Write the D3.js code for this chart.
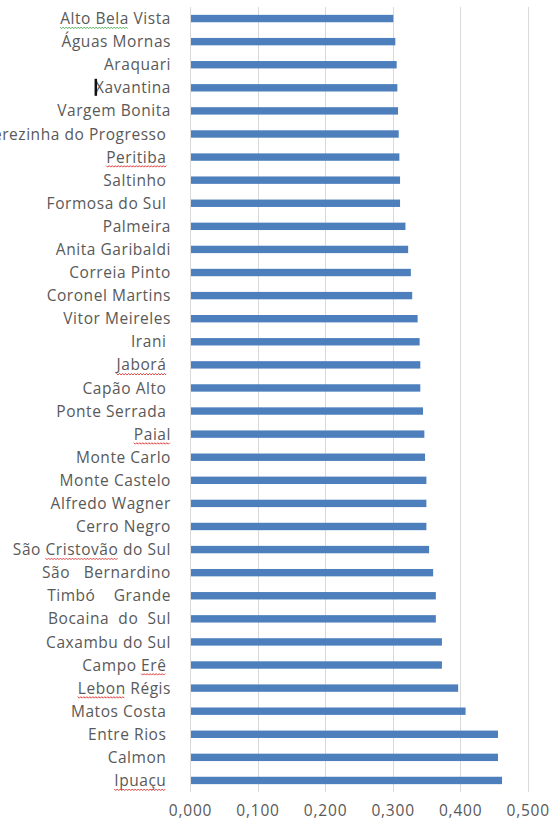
<!DOCTYPE html>
<html>
<head>
<meta charset="utf-8">
<script src="https://cdn.jsdelivr.net/npm/d3@7"></script>
<style>
  html, body { margin: 0; padding: 0; background: #ffffff; }
  svg { display: block; }
  text { font-family: "Open Sans", "Noto Sans", sans-serif; fill: #595959; white-space: pre; }
</style>
</head>
<body>
<svg id="chart" width="552" height="823"></svg>
<script>
// Categories, top to bottom
const categories = [
  "Alto Bela Vista", "Águas Mornas", "Araquari", "Xavantina", "Vargem Bonita",
  "Santa Terezinha do Progresso ", "Peritiba ", "Saltinho ", "Formosa do Sul ", "Palmeira",
  "Anita Garibaldi", "Correia Pinto", "Coronel Martins", "Vitor Meireles", "Irani ",
  "Jaborá ", "Capão Alto ", "Ponte Serrada ", "Paial", "Monte Carlo",
  "Monte Castelo", "Alfredo Wagner", "Cerro Negro", "São Cristovão do Sul", "São   Bernardino",
  "Timbó    Grande", "Bocaina  do  Sul", "Caxambu do Sul", "Campo Erê ", "Lebon Régis",
  "Matos Costa ", "Entre Rios ", "Calmon ", "Ipuaçu "
];
const values = [
  0.301, 0.304, 0.306, 0.307, 0.308,
  0.309, 0.310, 0.311, 0.311, 0.319,
  0.323, 0.327, 0.329, 0.337, 0.340,
  0.341, 0.341, 0.345, 0.347, 0.348,
  0.350, 0.350, 0.350, 0.354, 0.360,
  0.364, 0.364, 0.373, 0.373, 0.397,
  0.408, 0.456, 0.456, 0.462
];
const xTicks = [0, 0.1, 0.2, 0.3, 0.4, 0.5];
// spell-check squiggles seen in the reference (word, colour)
const redSquiggle = ["Peritiba", "Jaborá", "Paial", "Cristovão", "Erê", "Lebon", "Ipuaçu"];
const greenSquiggle = ["Alto Bela"];

const svg = d3.select("#chart");
const x = d3.scaleLinear().domain([0, 0.5]).range([190, 527.7]);
const y = d3.scaleBand().domain(categories).range([7, 792]).paddingInner(0.68).paddingOuter(0.34);

// gridlines
svg.append("g").selectAll("line").data(xTicks).join("line")
  .attr("x1", d => Math.round(x(d)) + 0.5).attr("x2", d => Math.round(x(d)) + 0.5)
  .attr("y1", 7).attr("y2", 792)
  .attr("stroke", "#d9d9d9").attr("stroke-width", 1);

// bars
svg.append("g").selectAll("rect").data(categories).join("rect")
  .attr("x", x(0) + 1)
  .attr("y", d => y(d))
  .attr("width", (d, i) => x(values[i]) - x(0) - 1)
  .attr("height", y.bandwidth())
  .attr("fill", "#4c7fbc");

// category axis
const yAxis = svg.append("g").attr("transform", "translate(190,0)")
  .call(d3.axisLeft(y).tickSize(0).tickPadding(19));
yAxis.select(".domain").remove();
yAxis.selectAll("text")
  .style("font-family", '"Open Sans", sans-serif')
  .style("font-size", "15.5px")
  .style("letter-spacing", "0.55px")
  .attr("fill", "#595959")
  .attr("dy", "0.36em");

// spell-check squiggles drawn as zigzag paths under the words
const words = [...redSquiggle.map(w => [w, "#e03a3a"]), ...greenSquiggle.map(w => [w, "#4caf50"])];
yAxis.selectAll(".tick").each(function(d) {
  const hit = words.find(([w]) => d.includes(w));
  if (!hit) return;
  const [w, col] = hit;
  const textEl = this.querySelector("text");
  const i0 = d.indexOf(w), i1 = i0 + w.length - 1;
  const xs = textEl.getStartPositionOfChar(i0).x;
  const xe = textEl.getEndPositionOfChar(i1).x;
  const yb = textEl.getStartPositionOfChar(i0).y + 3;
  let p = "M" + xs + "," + yb;
  let k = 0;
  for (let xx = xs + 1.5; xx <= xe; xx += 1.5, k++) p += "L" + xx + "," + (yb + (k % 2 === 0 ? 1.5 : 0));
  d3.select(this).append("path").attr("d", p).attr("fill", "none")
    .attr("stroke", col).attr("stroke-width", 1);
});

// text cursor artefact on "Xavantina"
yAxis.selectAll(".tick").filter(d => d === "Xavantina").each(function(d) {
  const bb = this.querySelector("text").getBBox();
  d3.select(this).append("rect")
    .attr("x", bb.x - 0.5).attr("y", -9).attr("width", 2.5).attr("height", 17).attr("fill", "#111");
});

// value axis
const xAxis = svg.append("g").attr("transform", "translate(0,797)")
  .call(d3.axisBottom(x).tickValues(xTicks).tickSize(0).tickPadding(8)
    .tickFormat(d => d.toFixed(3).replace(".", ",")));
xAxis.select(".domain").remove();
xAxis.selectAll("text")
  .style("font-family", '"Open Sans", sans-serif')
  .style("font-size", "15.5px")
  .style("letter-spacing", "0.8px")
  .attr("fill", "#595959");
</script>
</body>
</html>
